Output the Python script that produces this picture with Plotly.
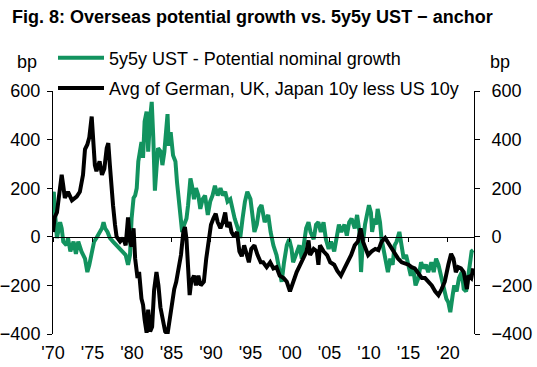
import plotly.graph_objects as go

# ---- data ----
green_x = [1970.0, 1970.1, 1970.25, 1970.5, 1970.9, 1971.1, 1971.3, 1971.7, 1971.9, 1972.2, 1972.6, 1972.9,
           1973.2, 1973.6, 1974.05, 1974.35, 1974.6, 1974.9, 1975.2, 1975.5, 1975.9, 1976.2, 1976.4, 1976.6,
           1976.9, 1977.2, 1977.6, 1978.05, 1978.5, 1978.9, 1979.2, 1979.5, 1979.75, 1979.95, 1980.2, 1980.4,
           1980.6, 1980.8, 1981.0, 1981.2, 1981.4, 1981.6, 1981.85, 1982.05, 1982.3, 1982.5, 1982.7, 1982.9,
           1983.1, 1983.3, 1983.65, 1983.85, 1984.1, 1984.3, 1984.5, 1984.65, 1984.9, 1985.2, 1985.5, 1985.7,
           1985.9, 1986.2, 1986.35, 1986.6, 1986.9, 1987.1, 1987.4, 1987.6, 1987.85, 1988.1, 1988.4, 1988.65,
           1988.95, 1989.25, 1989.6, 1989.9, 1990.2, 1990.5, 1990.85, 1991.2, 1991.5, 1991.8, 1992.1, 1992.45,
           1992.75, 1993.0, 1993.4, 1993.7, 1994.0, 1994.3, 1994.6, 1995.0, 1995.3, 1995.5, 1995.8, 1996.1,
           1996.4, 1996.8, 1997.0, 1997.25, 1997.55, 1997.9, 1998.3, 1998.65, 1998.95, 1999.25, 1999.6, 1999.9,
           2000.2, 2000.4, 2000.85, 2001.2, 2001.5, 2001.8, 2002.05, 2002.35, 2002.6, 2003.0, 2003.3, 2003.6,
           2003.9, 2004.25, 2004.55, 2004.9, 2005.2, 2005.6, 2005.9, 2006.2, 2006.5, 2006.9, 2007.2, 2007.5,
           2007.8, 2008.2, 2008.5, 2008.8, 2009.0, 2009.2, 2009.5, 2009.8, 2010.0, 2010.25, 2010.4, 2010.7,
           2010.9, 2011.1, 2011.4, 2011.6, 2011.85, 2012.1, 2012.4, 2012.7, 2013.0, 2013.25, 2013.5, 2013.85,
           2014.1, 2014.4, 2014.7, 2015.0, 2015.3, 2015.6, 2015.9, 2016.25, 2016.6, 2016.9, 2017.2, 2017.5,
           2017.9, 2018.2, 2018.5, 2018.8, 2019.2, 2019.5, 2019.8, 2020.05, 2020.3, 2020.6, 2020.8, 2021.1,
           2021.4, 2021.75, 2022.0, 2022.3, 2022.5, 2022.8, 2023.0, 2023.2]
green_y = [170, 185, 100, -5, 60, 35, -20, -35, -5, -60, -20, -70,
           -20, -60, -90, -145, -115, -75, -20, -5, 20, 35, 60, 35,
           20, -5, -20, -35, -50, -60, -75, -115, -75, 75, 160, 170,
           200, 310, 350, 390, 325, 475, 515, 350, 490, 555, 405, 190,
           280, 365, 350, 295, 350, 430, 505, 375, 430, 335, 310, 225,
           155, 75, 20, 50, 75, 130, 240, 210, 155, 200, 170, 115,
           155, 170, 90, 145, 170, 210, 170, 200, 170, 185, 145, 155,
           100, 75, 35, -5, 75, 145, 185, 155, 75, 20, 50, 115,
           130, 60, 75, 90, 20, -35, -75, -145, -185, -105, -35, -10,
           -50, -105, -60, -35, -90, -20, 35, 60, 20, -10, 50, 60,
           20, 60, -10, -50, -20, -60, 5, 50, 20, 50, 5, 60,
           75, 35, 90, 20, -145, -35, 50, 100, 130, 100, 20, 75,
           50, 115, 60, -10, -50, -90, -145, -90, -115, -35, -20, 20,
           -35, -90, -75, -115, -160, -130, -200, -170, -105, -130, -115, -145,
           -105, -145, -90, -115, -170, -200, -255, -270, -310, -240, -200, -225,
           -170, -145, -215, -225, -170, -115, -60, -55]

black_x = [1970.0, 1970.2, 1970.5, 1970.8, 1971.1, 1971.3, 1971.5, 1971.9, 1972.4, 1973.0, 1973.4, 1973.8,
           1974.05, 1974.35, 1974.6, 1974.9, 1975.1, 1975.3, 1975.5, 1975.9, 1976.2, 1976.5, 1976.8, 1977.0,
           1977.2, 1977.4, 1977.6, 1977.85, 1978.05, 1978.5, 1978.9, 1979.2, 1979.5, 1979.75, 1979.95, 1980.2,
           1980.4, 1980.7, 1980.9, 1981.2, 1981.4, 1981.6, 1981.85, 1982.05, 1982.3, 1982.55, 1982.8, 1983.1,
           1983.35, 1983.6, 1983.9, 1984.2, 1984.5, 1984.8, 1985.1, 1985.35, 1985.6, 1985.9, 1986.2, 1986.5,
           1986.7, 1986.9, 1987.1, 1987.3, 1987.5, 1987.85, 1988.1, 1988.4, 1988.7, 1989.1, 1989.4, 1989.7,
           1990.0, 1990.3, 1990.6, 1990.85, 1991.2, 1991.5, 1991.8, 1992.05, 1992.35, 1992.6, 1992.95, 1993.3,
           1993.6, 1993.9, 1994.2, 1994.55, 1994.8, 1995.1, 1995.5, 1995.9, 1996.3, 1996.6, 1997.05, 1997.5,
           1997.9, 1998.3, 1998.7, 1999.2, 1999.6, 2000.0, 2000.4, 2000.85, 2001.3, 2001.7, 2002.1, 2002.35,
           2002.55, 2003.0, 2003.4, 2003.6, 2003.8, 2004.25, 2004.7, 2005.1, 2005.6, 2006.0, 2006.45, 2006.9,
           2007.3, 2007.75, 2008.2, 2008.6, 2008.95, 2009.25, 2009.6, 2009.9, 2010.35, 2010.8, 2011.2, 2011.6,
           2012.05, 2012.5, 2012.9, 2013.3, 2013.7, 2014.15, 2014.6, 2015.0, 2015.4, 2015.8, 2016.25, 2016.7,
           2017.1, 2017.5, 2017.95, 2018.4, 2018.8, 2019.2, 2019.6, 2020.05, 2020.4, 2020.7, 2021.0, 2021.3,
           2021.65, 2022.0, 2022.2, 2022.4, 2022.6, 2022.95, 2023.2]
black_y = [20, 80, 100, 170, 255, 210, 160, 185, 150, 165, 185, 255,
           360, 380, 410, 495, 405, 295, 270, 310, 255, 280, 365, 385,
           295, 185, 130, 50, 0, -20, -5, -35, 80, -20, -40, 35,
           -90, -170, -145, -255, -280, -340, -395, -300, -390, -370, -220, -145,
           -200, -290, -340, -390, -400, -335, -255, -215, -185, -130, -75, 20,
           40, -10, -145, -240, -185, -160, -200, -160, -200, -185, -90, -20,
           50, 75, 95, 60, 35, 60, 100, 40, 60, 20, 0, 20,
           -60, -80, -35, -75, -105, -50, -35, -75, -105, -105, -125, -105,
           -130, -125, -160, -170, -185, -225, -185, -145, -115, -90, -60, -15,
           -75, -50, -60, -115, -35, -60, -75, -105, -115, -140, -160, -130,
           -105, -75, -35, -20, 35, -20, -50, -75, -60, -50, -55, -20,
           -5, -30, -50, -75, -90, -105, -110, -115, -125, -130, -150, -170,
           -170, -185, -200, -225, -240, -215, -185, -115, -70, -90, -145, -125,
           -130, -145, -185, -215, -160, -170, -130]

tick_years = [1970, 1975, 1980, 1985, 1990, 1995, 2000, 2005, 2010, 2015, 2020]
tick_labels = ["'70", "'75", "'80", "'85", "'90", "'95", "'00", "'05", "'10", "'15", "'20"]
y_ticks = [-400, -200, 0, 200, 400, 600]

GREEN = "#12935F"
FONT = "Liberation Sans, Arial, sans-serif"
FS = 18
YFS = 18
X_RANGE = [1970, 2023.3]
Y_RANGE = [-400, 600]

fig = go.Figure()
fig.add_trace(go.Scatter(x=green_x, y=green_y, mode="lines",
                         name="5y5y UST - Potential nominal growth",
                         line=dict(color=GREEN, width=4), legendgroup="a"))
fig.add_trace(go.Scatter(x=black_x, y=black_y, mode="lines",
                         name="Avg of German, UK, Japan 10y less US 10y",
                         line=dict(color="black", width=4), legendgroup="b"))
# invisible helper traces so that the secondary axes get drawn
fig.add_trace(go.Scatter(x=[None], y=[None], xaxis="x2", yaxis="y", mode="lines",
                         showlegend=False, hoverinfo="skip"))
fig.add_trace(go.Scatter(x=[None], y=[None], xaxis="x", yaxis="y2", mode="lines",
                         showlegend=False, hoverinfo="skip"))

zero_frac = (0 - Y_RANGE[0]) / (Y_RANGE[1] - Y_RANGE[0])

fig.update_layout(
    width=537, height=367,
    margin=dict(l=53, r=63, t=91, b=33, autoexpand=False),
    paper_bgcolor="white", plot_bgcolor="white",
    font=dict(family=FONT, size=FS, color="black"),
    title=dict(text="<b>Fig. 8: Overseas potential growth vs. 5y5y UST \u2212 anchor</b>",
               x=12 / 537, xanchor="left", xref="container",
               y=1 - 17 / 367, yanchor="middle", yref="container",
               font=dict(family=FONT, size=18, color="black"), automargin=False),
    showlegend=True,
    legend=dict(x=0.0, y=1.212, xanchor="left", yanchor="top",
                bgcolor="rgba(0,0,0,0)", font=dict(size=FS),
                tracegroupgap=4, itemwidth=46),
    xaxis=dict(range=X_RANGE, tickvals=tick_years, ticktext=tick_labels,
               anchor="free", position=zero_frac,
               showline=True, linecolor="black", linewidth=1,
               ticks="outside", ticklen=4, tickcolor="black",
               showticklabels=False, showgrid=False, zeroline=False, automargin=False),
    xaxis2=dict(range=X_RANGE, tickvals=tick_years, ticktext=tick_labels,
                overlaying="x", anchor="y", side="bottom",
                showline=False, ticks="outside", ticklen=2,
                tickcolor="rgba(0,0,0,0)", showticklabels=True,
                showgrid=False, zeroline=False, tickfont=dict(size=FS), automargin=False),
    yaxis=dict(range=Y_RANGE, tickvals=y_ticks, showline=True,
               linecolor="black", linewidth=1, ticks="outside", ticklen=5,
               tickcolor="black", showgrid=False, zeroline=False,
               ticklabelstandoff=3, tickfont=dict(size=YFS), automargin=False),
    yaxis2=dict(range=Y_RANGE, tickvals=y_ticks, overlaying="y", side="right",
                anchor="x", showline=True, linecolor="black", linewidth=1,
                ticks="outside", ticklen=5, tickcolor="black",
                showgrid=False, zeroline=False, ticklabelstandoff=8,
                tickfont=dict(size=YFS), automargin=False),
    annotations=[
        dict(text="bp", xref="paper", yref="paper", x=-0.062, y=1.119,
             showarrow=False, font=dict(size=FS), xanchor="center", yanchor="middle"),
        dict(text="bp", xref="paper", yref="paper", x=1.062, y=1.119,
             showarrow=False, font=dict(size=FS), xanchor="center", yanchor="middle"),
    ],
)

fig.write_html("out.html", config={"displayModeBar": False},
               post_script="document.body.style.margin='0';")
